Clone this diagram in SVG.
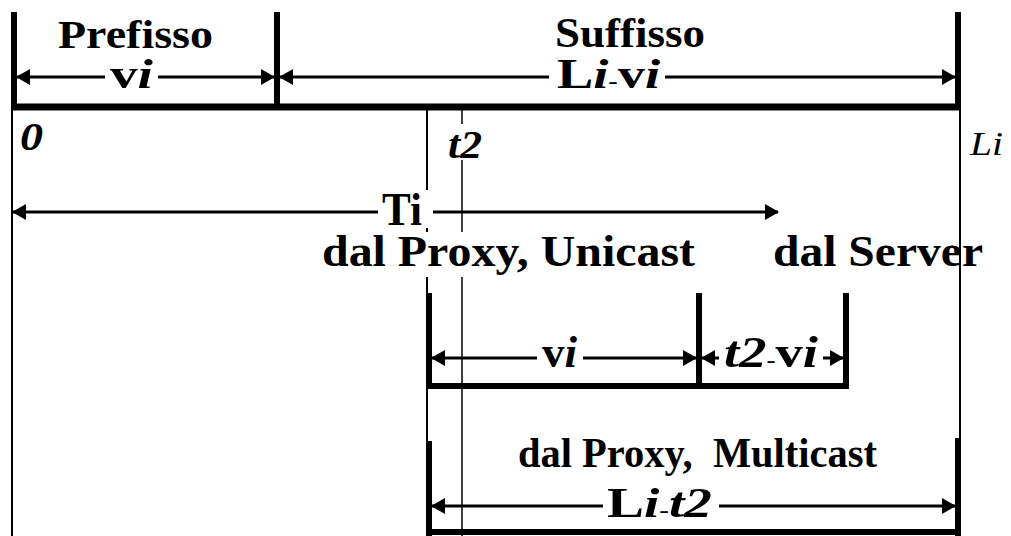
<svg xmlns="http://www.w3.org/2000/svg" width="1011" height="536" viewBox="0 0 1011 536">
  <style>
    .thick { stroke: #000; stroke-width: 6; fill: none; stroke-linecap: butt; }
    .thin { stroke: #000; stroke-width: 2; fill: none; }
    .hair { stroke: #000; stroke-width: 1.5; fill: none; }
    .dim { stroke: #000; stroke-width: 3; fill: none; marker-start: url(#ah); marker-end: url(#ah); }
    .mask { fill: #fff; stroke: none; }
    text { font-family: "Liberation Serif", "Times New Roman", serif; fill: #000; }
    .b { font-weight: bold; }
    .bi { font-weight: bold; font-style: italic; }
    .it { font-style: italic; }
    .dash { font-size: 22px; font-weight: bold; }
  </style>
  <defs>
    <marker id="ah" markerUnits="userSpaceOnUse" markerWidth="14" markerHeight="16" refX="13" refY="8" orient="auto-start-reverse" viewBox="0 0 14 16">
      <path d="M0,0 L14,8 L0,16 z" fill="#000"/>
    </marker>
  </defs>
  <rect width="1011" height="536" fill="#fff"/>

  <g id="guides">
    <line class="thin" x1="12" y1="107" x2="12" y2="536"/>
    <line class="thin" x1="960" y1="107" x2="960" y2="536"/>
    <line class="thin" x1="427" y1="107" x2="427" y2="536"/>
    <line class="hair" x1="462" y1="110" x2="462" y2="536"/>
  </g>

  <g id="segment-prefix-suffix">
    <line class="thick" x1="14" y1="12" x2="14" y2="110"/>
    <line class="thick" x1="277" y1="12" x2="277" y2="110"/>
    <line class="thick" x1="958" y1="12" x2="958" y2="110"/>
    <line class="thick" x1="11" y1="107" x2="961" y2="107" style="stroke-width:7"/>
  </g>

  <g id="segment-unicast">
    <line class="thick" x1="429" y1="293" x2="429" y2="389"/>
    <line class="thick" x1="699" y1="293" x2="699" y2="389"/>
    <line class="thick" x1="846" y1="293" x2="846" y2="389"/>
    <line class="thick" x1="426" y1="386" x2="849" y2="386"/>
  </g>

  <g id="segment-multicast">
    <line class="thick" x1="429" y1="441" x2="429" y2="536"/>
    <line class="thick" x1="958" y1="438" x2="958" y2="536"/>
    <line class="thick" x1="426" y1="532" x2="961" y2="532"/>
  </g>

  <g id="connectors">
    <line class="dim" x1="17" y1="77" x2="274" y2="77"/>
    <line class="dim" x1="280" y1="77" x2="955" y2="77"/>
    <line class="dim" x1="13" y1="212" x2="778" y2="212"/>
    <line class="dim" x1="432" y1="358" x2="696" y2="358"/>
    <line class="dim" x1="702" y1="358" x2="843" y2="358"/>
    <line class="dim" x1="432" y1="506" x2="955" y2="506"/>
  </g>

  <g id="label-masks">
    <rect class="mask" x="105" y="60" width="53" height="30"/>
    <rect class="mask" x="549" y="60" width="116" height="30"/>
    <rect class="mask" x="378" y="190" width="55" height="38"/>
    <rect class="mask" x="316" y="232" width="384" height="45"/>
    <rect class="mask" x="444" y="124" width="42" height="36"/>
    <rect class="mask" x="537" y="340" width="46" height="30"/>
    <rect class="mask" x="719" y="338" width="104" height="32"/>
    <rect class="mask" x="603" y="486" width="116" height="34"/>
  </g>

  <g id="labels">
    <text class="b" x="58" y="48" font-size="41" textLength="155" lengthAdjust="spacingAndGlyphs">Prefisso</text>
    <text class="b" x="555" y="47" font-size="43" textLength="150" lengthAdjust="spacingAndGlyphs">Suffisso</text>
    <text x="110" y="88" font-size="42" textLength="43" lengthAdjust="spacingAndGlyphs"><tspan class="b">v</tspan><tspan class="bi">i</tspan></text>
    <text x="557" y="88" font-size="42" textLength="103" lengthAdjust="spacingAndGlyphs"><tspan class="b">L</tspan><tspan class="bi">i</tspan><tspan class="dash">-</tspan><tspan class="b">v</tspan><tspan class="bi">i</tspan></text>
    <text class="bi" x="20" y="150" font-size="40" textLength="23" lengthAdjust="spacingAndGlyphs">0</text>
    <text class="bi" x="448" y="158" font-size="41" textLength="34" lengthAdjust="spacingAndGlyphs">t2</text>
    <text class="it" x="970" y="155" font-size="33" textLength="33" lengthAdjust="spacingAndGlyphs">Li</text>
    <text class="b" x="382" y="225" font-size="46" textLength="40" lengthAdjust="spacingAndGlyphs">Ti</text>
    <text class="b" x="322" y="266" font-size="45" textLength="373" lengthAdjust="spacingAndGlyphs">dal Proxy, Unicast</text>
    <text class="b" x="773" y="266" font-size="45" textLength="210" lengthAdjust="spacingAndGlyphs">dal Server</text>
    <text x="542" y="367" font-size="44" textLength="35" lengthAdjust="spacingAndGlyphs"><tspan class="b">v</tspan><tspan class="bi">i</tspan></text>
    <text x="724" y="367" font-size="44" textLength="94" lengthAdjust="spacingAndGlyphs"><tspan class="bi">t2</tspan><tspan class="dash">-</tspan><tspan class="b">v</tspan><tspan class="bi">i</tspan></text>
    <text class="b" x="518" y="467" font-size="43" textLength="359" lengthAdjust="spacingAndGlyphs" xml:space="preserve">dal Proxy,  Multicast</text>
    <text x="607" y="517" font-size="42" textLength="105" lengthAdjust="spacingAndGlyphs"><tspan class="b">L</tspan><tspan class="bi">i</tspan><tspan class="dash">-</tspan><tspan class="bi">t2</tspan></text>
  </g>
</svg>
